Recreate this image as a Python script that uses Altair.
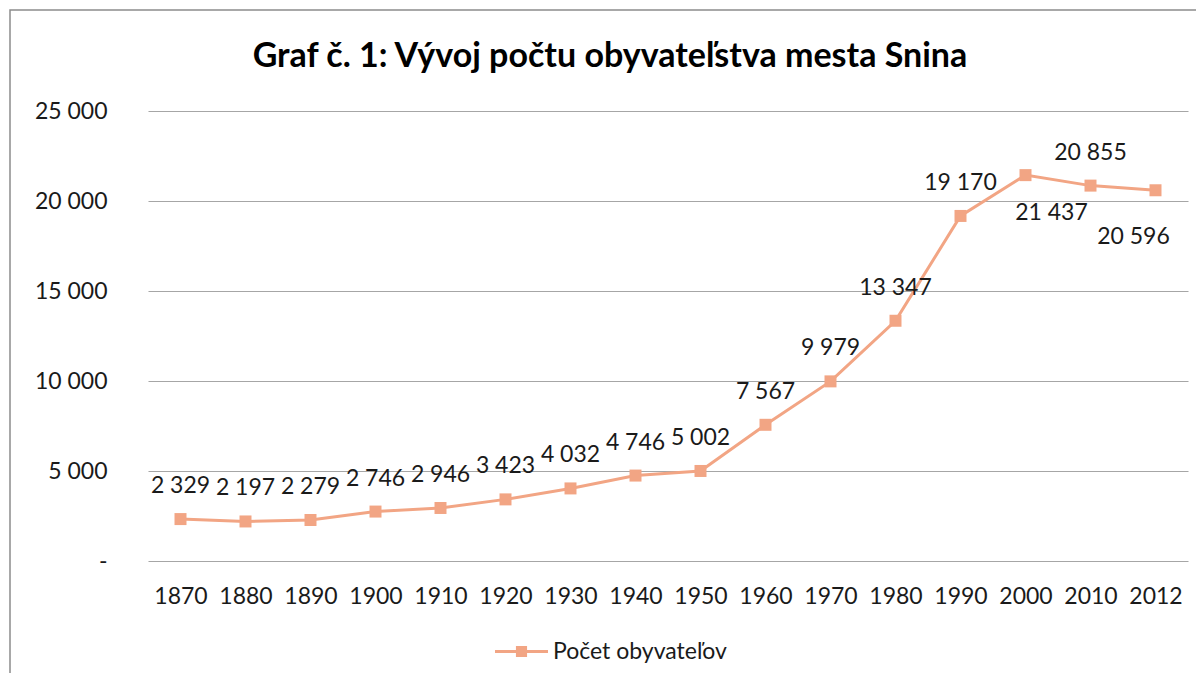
import altair as alt
import pandas as pd

years = ["1870", "1880", "1890", "1900", "1910", "1920", "1930", "1940",
         "1950", "1960", "1970", "1980", "1990", "2000", "2010", "2012"]
population = [2329, 2197, 2279, 2746, 2946, 3423, 4032, 4746,
              5002, 7567, 9979, 13347, 19170, 21437, 20855, 20596]
series_name = "Počet obyvateľov"
title_text = "Graf č. 1: Vývoj počtu obyvateľstva mesta Snina"
y_ticks = [0, 5000, 10000, 15000, 20000, 25000]

COLOR = "#F2A584"
FONT = "Lato"
TXT = "#1a1a1a"
FS = 23

df = pd.DataFrame({"year": years, "value": population})

base = alt.Chart(df).transform_calculate(
    series=f"'{series_name}'",
    lbl="replace(format(datum.value, ','), ',', ' ')",
)

x_enc = alt.X("year:N", sort=years, title=None,
              scale=alt.Scale(type="point", padding=0.5),
              axis=alt.Axis(labelAngle=0, ticks=False, tickSize=0, domain=False,
                            grid=False, labelPadding=24, labelFont=FONT,
                            labelFontSize=FS, labelColor=TXT))
y_enc = alt.Y("value:Q", title=None,
              scale=alt.Scale(domain=[0, 25000], nice=False),
              axis=alt.Axis(values=y_ticks, ticks=False, tickSize=0, domain=False,
                            grid=True, gridColor="#A6A6A6", gridWidth=1.2,
                            labelPadding=41, labelFont=FONT, labelFontSize=FS,
                            labelColor=TXT,
                            labelExpr="datum.value == 0 ? '-\u00a0\u00a0\u00a0' : replace(format(datum.value, ','), ',', ' ')"))

line = base.mark_line(color=COLOR, strokeWidth=3).encode(x=x_enc, y=y_enc)

points = base.mark_square(size=144, opacity=1).encode(
    x="year:N", y="value:Q",
    color=alt.Color("series:N", title=None,
                    scale=alt.Scale(range=[COLOR]),
                    legend=alt.Legend(
                        orient="none", legendX=347, legendY=514,
                        symbolType="M-1,-0.06H1V0.06H-1Z M-0.21,-0.21H0.21V0.21H-0.21Z",
                        symbolSize=2809, symbolStrokeWidth=0, symbolOpacity=1,
                        labelFont=FONT, labelFontSize=FS, labelColor=TXT,
                        labelLimit=500, labelOffset=5, padding=0)),
)

common_text = dict(font=FONT, fontSize=FS, color=TXT, baseline="middle", align="center")

labels_above = base.transform_filter(
    "datum.year != '2000' && datum.year != '2012'"
).mark_text(dy=-33, **common_text).encode(x="year:N", y="value:Q", text="lbl:N")

label_2000 = base.transform_filter("datum.year == '2000'").mark_text(
    dx=26, dy=38, **common_text).encode(x="year:N", y="value:Q", text="lbl:N")

label_2012 = base.transform_filter("datum.year == '2012'").mark_text(
    dx=-22, dy=47, **common_text).encode(x="year:N", y="value:Q", text="lbl:N")

frame = alt.Chart(pd.DataFrame({"f": [0]})).mark_rect(
    fill=None, stroke="#8C8C8C", strokeWidth=1.5
).encode(x=alt.value(-138), x2=alt.value(1062), y=alt.value(-101), y2=alt.value(600))

chart = alt.layer(frame, line, points, labels_above, label_2000, label_2012).properties(
    width=1040, height=450,
    title=alt.TitleParams(title_text, font=FONT, fontSize=34, fontWeight="bold",
                          color="#000000", anchor="middle", frame="bounds",
                          baseline="alphabetic", offset=-92),
    autosize=alt.AutoSizeParams(type="none"),
    padding={"left": 140, "top": 103, "right": 8, "bottom": 112},
).configure_view(stroke=None)

chart.save("out.html", embed_options={"renderer": "svg", "actions": False})
